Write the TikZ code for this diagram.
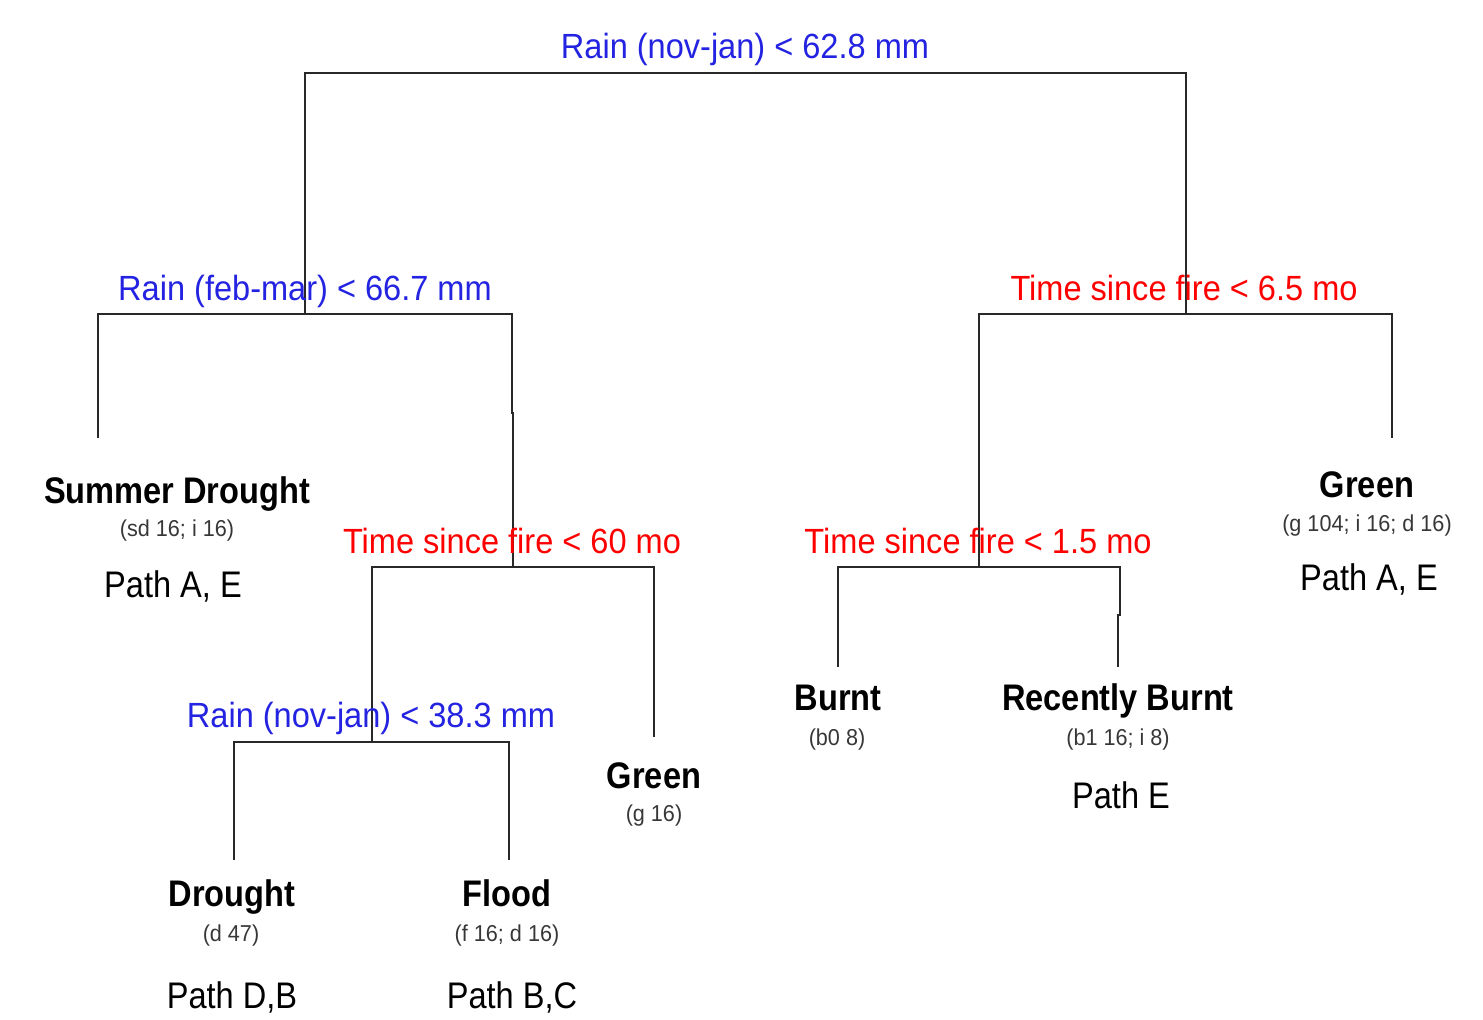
\documentclass[tikz,border=0pt]{standalone}
\usepackage{fontspec}
\setmainfont{Liberation Sans}
\newfontfamily\splitfont[FakeStretch=0.93]{Liberation Sans}
\newfontfamily\leaffont[FakeStretch=0.88]{Liberation Sans}
\newfontfamily\countfont[FakeStretch=0.94]{Liberation Sans}
\usetikzlibrary{calc}
\definecolor{splitblue}{RGB}{35,35,225}
\definecolor{splitred}{RGB}{255,0,0}
\definecolor{branch}{RGB}{40,40,40}
\definecolor{countgray}{RGB}{55,55,55}
\tikzset{
  edge/.style={draw=branch, line width=0.9pt},
  rainlabel/.style={anchor=base, inner sep=0pt, text=splitblue, font=\splitfont\fontsize{17.5}{20}\selectfont},
  firelabel/.style={anchor=base, inner sep=0pt, text=splitred, font=\splitfont\fontsize{17.5}{20}\selectfont},
  leaftitle/.style={anchor=base, inner sep=0pt, font=\leaffont\bfseries\fontsize{18.5}{21}\selectfont},
  leafcount/.style={anchor=base, inner sep=0pt, text=countgray, font=\countfont\fontsize{11.5}{13}\selectfont},
  leafpath/.style={anchor=base, inner sep=0pt, font=\leaffont\fontsize{18.5}{21}\selectfont},
}
\begin{document}
\begin{tikzpicture}[x=0.5pt, y=-0.5pt]
\useasboundingbox (0,0) rectangle (1483,1019);

% split points (on each split's bar) and leaf tops
\coordinate (s0) at (745.5,73);
\coordinate (s1) at (305,314);
\coordinate (s2) at (1186,314);
\coordinate (s3) at (513,567);
\coordinate (s4) at (979,567);
\coordinate (s5) at (372,742);
\coordinate (j1) at (512,413);
\coordinate (j2) at (1120,615);
\coordinate (sdT) at (98,438);
\coordinate (gRT) at (1392,438);
\coordinate (gLT) at (654,737);
\coordinate (bT) at (838,667);
\coordinate (rbT) at (1118,667);
\coordinate (dT) at (234,860);
\coordinate (fT) at (509,860);

% branches
\draw[edge] (s0) -| (s1);
\draw[edge] (s0) -| (s2);
\draw[edge] (s1) -| (sdT);
\draw[edge] (s1) -| (j1) -- (j1 -| s3) -- (s3);
\draw[edge] (s3) -| (s5);
\draw[edge] (s3) -| (gLT);
\draw[edge] (s5) -| (dT);
\draw[edge] (s5) -| (fT);
\draw[edge] (s2) -| (s4);
\draw[edge] (s2) -| (gRT);
\draw[edge] (s4) -| (bT);
\draw[edge] (s4) -| (j2) -- (j2 -| rbT) -- (rbT);

% split rules
\node[rainlabel] (l0) at (745,58) {Rain (nov-jan) < 62.8 mm};
\node[rainlabel] (l1) at (305,300) {Rain (feb-mar) < 66.7 mm};
\node[firelabel] (l2) at (1184,300) {Time since fire < 6.5 mo};
\node[firelabel] (l3) at (512,553) {Time since fire < 60 mo};
\node[firelabel] (l4) at (978,553) {Time since fire < 1.5 mo};
\node[rainlabel] (l5) at (371,727) {Rain (nov-jan) < 38.3 mm};

% leaves
\node[leaftitle] (sdA) at (177,503) {Summer Drought};
\node[leafcount] (sdB) at (177,536) {(sd 16; i 16)};
\node[leafpath]  (sdC) at (173,597) {Path A, E};

\node[leaftitle] (gRA) at (1367,497) {Green};
\node[leafcount] (gRB) at (1367,531) {(g 104; i 16; d 16)};
\node[leafpath]  (gRC) at (1369,590) {Path A, E};

\node[leaftitle] (gLA) at (654,788) {Green};
\node[leafcount] (gLB) at (654,821) {(g 16)};

\node[leaftitle] (bA) at (838,710) {Burnt};
\node[leafcount] (bB) at (837,745) {(b0 8)};

\node[leaftitle] (rbA) at (1118,710) {Recently Burnt};
\node[leafcount] (rbB) at (1118,745) {(b1 16; i 8)};
\node[leafpath]  (rbC) at (1121,808) {Path E};

\node[leaftitle] (dA) at (232,906) {Drought};
\node[leafcount] (dB) at (231,941) {(d 47)};
\node[leafpath]  (dC) at (232,1008) {Path D,B};

\node[leaftitle] (fA) at (507,906) {Flood};
\node[leafcount] (fB) at (507,941) {(f 16; d 16)};
\node[leafpath]  (fC) at (512,1008) {Path B,C};
\end{tikzpicture}
\end{document}
